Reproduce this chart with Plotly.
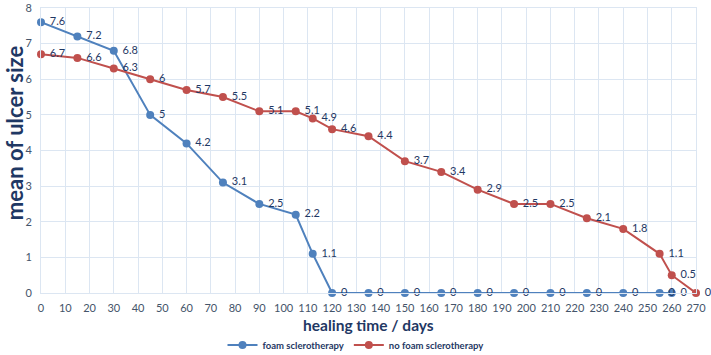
import plotly.graph_objects as go

foam_days = [0, 15, 30, 45, 60, 75, 90, 105, 112, 120, 135, 150, 165, 180, 195, 210, 225, 240, 255, 260]
foam_size = [7.6, 7.2, 6.8, 5, 4.2, 3.1, 2.5, 2.2, 1.1, 0, 0, 0, 0, 0, 0, 0, 0, 0, 0, 0]
nofoam_days = [0, 15, 30, 45, 60, 75, 90, 105, 112, 120, 135, 150, 165, 180, 195, 210, 225, 240, 255, 260, 270]
nofoam_size = [6.7, 6.6, 6.3, 6, 5.7, 5.5, 5.1, 5.1, 4.9, 4.6, 4.4, 3.7, 3.4, 2.9, 2.5, 2.5, 2.1, 1.8, 1.1, 0.5, 0]
x_title = "healing time / days"
y_title = "mean of ulcer size"

BLUE = "#4F81BD"
RED = "#C0504D"
LABEL = "#1F3864"
TICK = "#44546A"
GRID = "#DCE6F2"
FONT = "Lato, Open Sans, sans-serif"
NB = "\u00a0"

fig = go.Figure()
fig.add_trace(go.Scatter(
    x=foam_days, y=foam_size, name="foam sclerotherapy",
    mode="lines+markers+text", text=[NB + str(v) for v in foam_size],
    textposition="middle right", textfont=dict(color=LABEL, size=11, family=FONT),
    line=dict(color=BLUE, width=2), marker=dict(color=BLUE, size=8),
    cliponaxis=False))
fig.add_trace(go.Scatter(
    x=nofoam_days, y=nofoam_size, name="no foam sclerotherapy",
    mode="lines+markers+text", text=[NB + str(v) for v in nofoam_size],
    textposition="middle right", textfont=dict(color=LABEL, size=11, family=FONT),
    line=dict(color=RED, width=2), marker=dict(color=RED, size=8),
    cliponaxis=False))

fig.update_layout(
    width=711, height=355,
    margin=dict(l=41, r=15, t=8, b=62, autoexpand=False),
    plot_bgcolor="white", paper_bgcolor="white",
    font=dict(family=FONT, color=TICK, size=11),
    showlegend=True,
    legend=dict(orientation="h", x=0.5, xanchor="center", xref="container",
                y=0.028, yanchor="middle", yref="container",
                font=dict(size=9.5, color=LABEL, family=FONT, weight="bold")),
    xaxis=dict(range=[0, 270], dtick=10, tick0=0, showgrid=True, gridcolor=GRID, gridwidth=1,
               zeroline=False, showline=True, linecolor=GRID, mirror=True, automargin=False,
               ticks="", ticklabelstandoff=5, tickfont=dict(size=11, color=TICK)),
    yaxis=dict(range=[0, 8], dtick=1, showgrid=True, gridcolor=GRID, gridwidth=1,
               zeroline=False, showline=True, linecolor=GRID, mirror=True, automargin=False,
               ticks="", ticklabelstandoff=6, tickfont=dict(size=11, color=TICK)),
    annotations=[
        dict(text="<b>" + x_title + "</b>", xref="paper", yref="paper", x=0.5, y=-0.112,
             xanchor="center", yanchor="middle", showarrow=False,
             font=dict(size=15.5, color=LABEL, family=FONT)),
        dict(text="<b>" + y_title + "</b>", xref="paper", yref="paper", x=-0.0412, y=0.561,
             xanchor="center", yanchor="middle", showarrow=False, textangle=-90,
             font=dict(size=22, color=LABEL, family=FONT)),
    ],
)

fig.write_html("out.html")
